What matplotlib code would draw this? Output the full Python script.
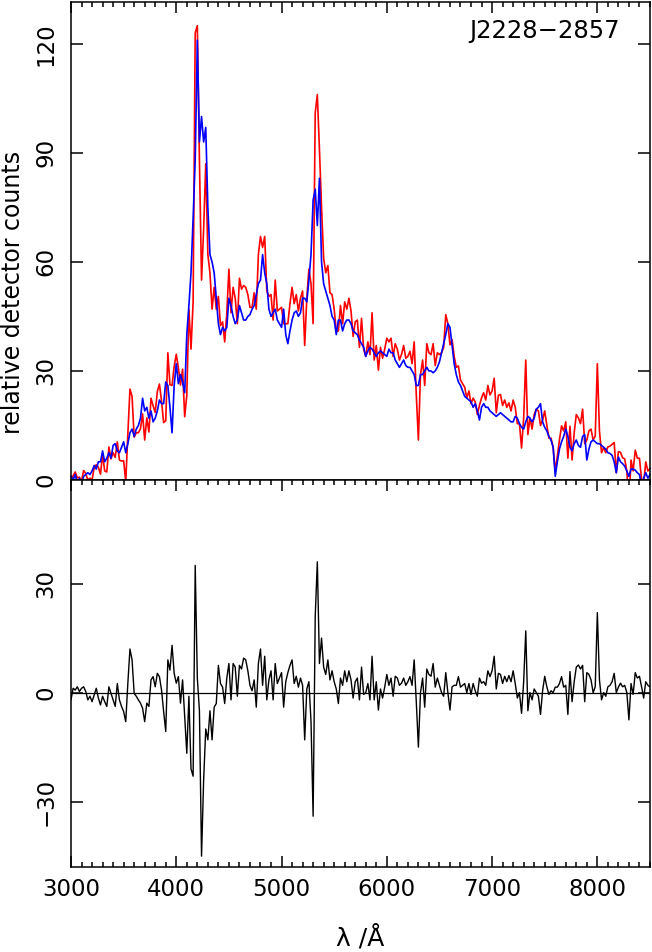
import numpy as np
import matplotlib
matplotlib.use('Agg')
import matplotlib.pyplot as plt
from matplotlib.ticker import MultipleLocator

# wavelength grid (Angstrom), 20 A sampling
wave = np.arange(3000, 8501, 20)

# blue spectrum
blue = np.array([
    1, 0, 1.5, -1, 0.5, -1.5, 1, 1.5, 2, 1.5,
    2.5, 4, 3, 5, 5, 8, 5, 6, 7.5, 6,
    9.5, 10, 8, 7.5, 9, 10.5, 7.5, 10, 13, 14,
    12, 14, 15, 17, 22.5, 19, 20, 17, 19, 16,
    17, 19, 22, 21, 21, 27, 26, 20, 13, 26,
    32, 26.5, 29, 27, 24, 40, 48, 57, 72, 88,
    121, 93, 100, 93, 97, 75, 62, 60, 57, 50,
    43, 40, 42, 41, 42, 50, 48, 45, 43, 44,
    48, 46, 44, 44, 45, 45.5, 47, 48, 51, 54,
    55, 62, 57, 54, 47, 45, 46, 47, 44, 43,
    42, 47, 40, 37.5, 41, 44, 46, 46.5, 45, 46,
    50, 50, 49, 55, 62, 77, 80, 70, 83, 60,
    54, 52, 50, 48, 45, 44, 40, 44, 44, 41,
    43, 44, 44, 43, 41, 40.5, 40, 38.5, 37.5, 36.5,
    34, 35.5, 36.5, 36, 35, 34, 35, 35.5, 35, 34.5,
    34, 36, 35, 35, 33, 32, 31, 32, 33, 31.5,
    31, 31, 30, 29, 26, 26, 29, 29, 30, 31,
    30, 30, 29.5, 30, 31, 32.5, 35, 37.5, 40, 43,
    42, 37, 32, 29, 27, 26, 24.5, 23, 22.5, 22,
    21.5, 20, 21, 19, 16.5, 20, 21, 20, 20, 19,
    18.5, 18, 17.5, 18, 18.5, 18, 17.5, 17, 16.5, 16,
    16, 17.5, 17, 15.5, 14.5, 14, 16, 17.5, 17, 16,
    17, 19.5, 20, 21, 16, 14.5, 13.5, 12, 11, 9,
    1, 5, 8.5, 10.5, 12, 14, 12, 9, 8, 10,
    11, 9.5, 9, 12, 12.5, 5.5, 8.5, 10.5, 11, 10.5,
    10, 10, 9.5, 9, 8.5, 7.5, 7.3, 6.8, 5, 2,
    6.3, 5, 4.5, 3.8, 2.5, 1, 3, 3, 2.7, 2,
    1.5, -1.5, 0.5, 2, 0.5, 1.5,
])

# red minus blue
diff = np.array([
    -2, 1.2, 0.7, 1.6, 0.3, 1.2, 1.6, 0.3, -2, -1,
    -2.5, -0.6, 1.2, -1.5, -3.4, -1, -2.5, -3.8, 1.6, -0.2,
    -2, -3.8, 2.5, -2, -3.8, -5.2, -8, 2.6, 12, 9,
    -0.2, -1, -2, -2.9, -4.3, -8, -2.9, -3.8, 3.5, 4.4,
    1.6, 5.3, 4.4, 0.7, -5.2, -10.7, 9, 6.2, 13, 5.3,
    2.6, 4.4, -2.9, 3.5, -6.6, -16.7, -1, -21, -23, 35,
    4, -5, -45, -24, -10, -13, -5, -13, -4, -3,
    7.5, 2.5, 1.5, -3, 4, 8, -2, 8, 7, -1,
    7.5, 6.5, 9.5, 9, 6, 2, 0.5, 3.5, -4, 8,
    12, 2, 10, -2, 3.5, 6, -2, 8, 2.5, 4,
    5.5, -4, 3, 5.5, 7.5, 9, 2.5, 4.5, 1.5, 4,
    2, -13, 1, 3, -8, -34, 21, 36, 8, 15,
    7, 5, 9, 3.5, 6, 3, 1, -3, 4, 2,
    6, 3, 6, 3.5, -1.5, 3, 4, -2, 7, -0.5,
    0, 2.5, -2, 10, -2, 3, -4.8, 1, -1.5, 1.5,
    5, 2, 4, -1, 4.5, 4, 2, 2.6, 4, 2,
    3, 4.4, 2, 9, -2.5, -15, 0, 4, -4, 6.5,
    5, 4.5, 8, 1.5, 4, 2, 0, -1, 5.5, 0,
    -4.8, 1.6, 2, 2, 4.4, 1.5, 2, 2.5, 0, 2.5,
    -0.5, 2.5, 0.5, -1, 4, 2.6, 3, 2, 6, 4.4,
    6, 10, 1, 5.3, 5, 2.5, 4.5, 3, 4.7, 3,
    6, 2.5, -1.5, 0, -5.7, 3, 17, -5, 0, -2,
    1, 0, -1, -6, 0.5, 4.5, 1.6, -0.5, 0.5, 0,
    1.5, 1.5, 2.5, 4.4, 1.5, 2, -6, 5.8, -2.5, 3,
    7, 7.6, 6.5, 7.5, -2.5, 5.5, 5, 3.5, 0, 1.6,
    22, 3.5, -2, 0, -1, 1.6, 2, 3, 5.3, 0,
    1.5, 2.6, 1.6, 2, 0, -7.5, 2.5, -0.5, 5.5, 4,
    4.5, 1.6, -1.5, 3, 2, 1.6,
])

red = blue + diff

top_yticks = [0, 30, 60, 90, 120]
bot_yticks = [-30, 0, 30]

plt.rcParams['font.family'] = ['DejaVu Sans']
plt.rcParams['axes.linewidth'] = 1.1

fig = plt.figure(figsize=(6.52, 9.52), dpi=100)
ax1 = fig.add_axes([0.1089, 0.4958, 0.8880, 0.5021])
ax2 = fig.add_axes([0.1089, 0.0896, 0.8880, 0.4062])

# upper panel: the two spectra
ax1.plot(wave, red, color='#ff0000', lw=1.2, clip_on=False)
ax1.plot(wave, blue, color='#0000ff', lw=1.2, clip_on=False)
ax1.set_xlim(3000, 8500)
ax1.set_ylim(0, 131.5)
ax1.set_yticks(top_yticks)
ax1.text(0.948, 0.939, 'J2228\u22122857', transform=ax1.transAxes,
         ha='right', va='center', fontsize=17.5)

# lower panel: difference
ax2.plot(wave, diff, color='black', lw=1.0)
ax2.axhline(0, color='black', lw=0.9)
ax2.set_xlim(3000, 8500)
ax2.set_ylim(-47.9, 58.5)
ax2.set_yticks(bot_yticks)

for ax in (ax1, ax2):
    ax.xaxis.set_major_locator(MultipleLocator(1000))
    ax.xaxis.set_minor_locator(MultipleLocator(100))
    ax.tick_params(axis='x', which='major', length=8, width=1.1)
    ax.tick_params(axis='x', which='minor', length=3.6, width=1.1)
    ax.tick_params(axis='y', which='major', length=8.6, width=1.1,
                   direction='in', left=True, right=True, labelsize=16.5, pad=10)
    plt.setp(ax.get_yticklabels(), rotation=90, va='center', ha='right')

ax1.tick_params(axis='x', which='both', direction='in', top=True,
                bottom=False, labelbottom=False)
ax2.tick_params(axis='x', which='both', direction='in', top=True,
                bottom=True, labelsize=16.5, pad=8)

fig.text(13 / 652, 1 - 292 / 952, 'relative detector counts', rotation=90,
         ha='center', va='center', fontsize=17)
fig.text(0.553, 1 - 938 / 952, '\u03bb /\u00c5', ha='center', va='center',
         fontsize=18)

fig.savefig('out.png', dpi=100)
